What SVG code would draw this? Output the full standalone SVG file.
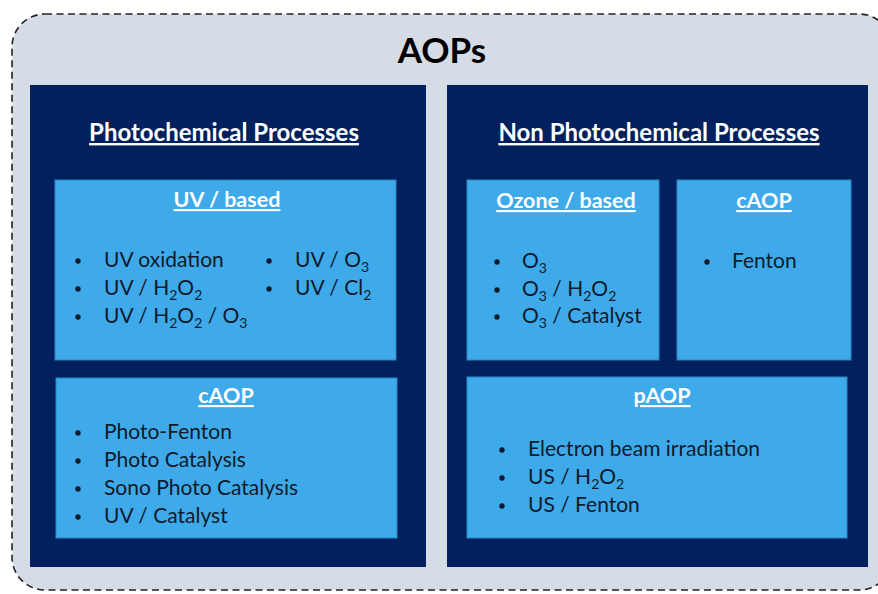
<svg xmlns="http://www.w3.org/2000/svg" width="878" height="594" viewBox="0 0 878 594">
  <style>
    .panel { fill: #01215e; }
    .box { fill: #3eaaea; stroke: #2a86c4; stroke-width: 1; }
    .title { font-family: Lato, "Open Sans", sans-serif; font-weight: bold; fill: #ffffff; text-decoration: underline; text-anchor: middle; }
    .head { font-size: 24px; }
    .sub { font-size: 21.5px; }
    .item { font-family: Lato, "Open Sans", sans-serif; font-size: 21px; fill: #101a2c; }
    .dot { fill: #101a2c; }
  </style>
  <defs>
    <circle id="bullet" r="2.7" class="dot"/>
  </defs>

  <!-- outer dashed container -->
  <g id="aops">
    <rect x="12" y="14" width="880" height="576" rx="33" ry="33" fill="#d6dce5" stroke="#222" stroke-width="1.6" stroke-dasharray="7 4.5"/>
    <text x="442" y="63" font-family="Lato, 'Open Sans', sans-serif" font-weight="bold" font-size="35" fill="#000" text-anchor="middle">AOPs</text>
  </g>

  <!-- photochemical side -->
  <g id="photochemical">
    <rect class="panel" x="30" y="85" width="396" height="482"/>
    <text class="title head" x="224" y="141">Photochemical Processes</text>
  </g>

  <g id="uv-based">
    <rect class="box" x="55" y="180" width="341" height="180"/>
    <text class="title sub" x="227" y="207">UV / based</text>
    <use href="#bullet" x="78" y="261"/>
    <use href="#bullet" x="78" y="289"/>
    <use href="#bullet" x="78" y="317"/>
    <text class="item" x="104" y="267">UV oxidation</text>
    <text class="item" x="104" y="295">UV / H<tspan dy="4.5" font-size="14">2</tspan><tspan dy="-4.5">O</tspan><tspan dy="4.5" font-size="14">2</tspan></text>
    <text class="item" x="104" y="323">UV / H<tspan dy="4.5" font-size="14">2</tspan><tspan dy="-4.5">O</tspan><tspan dy="4.5" font-size="14">2</tspan><tspan dy="-4.5">  / O</tspan><tspan dy="4.5" font-size="14">3</tspan></text>
    <use href="#bullet" x="269" y="261"/>
    <use href="#bullet" x="269" y="289"/>
    <text class="item" x="295" y="267">UV / O<tspan dy="4.5" font-size="14">3</tspan></text>
    <text class="item" x="295" y="295">UV / Cl<tspan dy="4.5" font-size="14">2</tspan></text>
  </g>

  <g id="caop-photo">
    <rect class="box" x="56" y="378" width="341" height="160"/>
    <text class="title sub" x="226" y="403">cAOP</text>
    <use href="#bullet" x="78" y="433"/>
    <use href="#bullet" x="78" y="461"/>
    <use href="#bullet" x="78" y="489"/>
    <use href="#bullet" x="78" y="517"/>
    <text class="item" x="104" y="439">Photo-Fenton</text>
    <text class="item" x="104" y="467">Photo Catalysis</text>
    <text class="item" x="104" y="495">Sono Photo Catalysis</text>
    <text class="item" x="104" y="523">UV / Catalyst</text>
  </g>

  <!-- non-photochemical side -->
  <g id="non-photochemical">
    <rect class="panel" x="447" y="85" width="421" height="482"/>
    <text class="title head" x="659" y="141">Non Photochemical Processes</text>
  </g>

  <g id="ozone-based">
    <rect class="box" x="467" y="180" width="192" height="180"/>
    <text class="title sub" x="566" y="208">Ozone / based</text>
    <use href="#bullet" x="497" y="262"/>
    <use href="#bullet" x="497" y="290"/>
    <use href="#bullet" x="497" y="317"/>
    <text class="item" x="522" y="268">O<tspan dy="4.5" font-size="14">3</tspan></text>
    <text class="item" x="522" y="296">O<tspan dy="4.5" font-size="14">3</tspan><tspan dy="-4.5"> / H</tspan><tspan dy="4.5" font-size="14">2</tspan><tspan dy="-4.5">O</tspan><tspan dy="4.5" font-size="14">2</tspan></text>
    <text class="item" x="522" y="323">O<tspan dy="4.5" font-size="14">3</tspan><tspan dy="-4.5"> / Catalyst</tspan></text>
  </g>

  <g id="caop-nonphoto">
    <rect class="box" x="677" y="180" width="174" height="180"/>
    <text class="title sub" x="764" y="208">cAOP</text>
    <use href="#bullet" x="707" y="262"/>
    <text class="item" x="732" y="268">Fenton</text>
  </g>

  <g id="paop">
    <rect class="box" x="467" y="377" width="380" height="161"/>
    <text class="title sub" x="662" y="403">pAOP</text>
    <use href="#bullet" x="502" y="450"/>
    <use href="#bullet" x="502" y="478"/>
    <use href="#bullet" x="502" y="506"/>
    <text class="item" x="528" y="456">Electron beam irradiation</text>
    <text class="item" x="528" y="484">US / H<tspan dy="4.5" font-size="14">2</tspan><tspan dy="-4.5">O</tspan><tspan dy="4.5" font-size="14">2</tspan></text>
    <text class="item" x="528" y="512">US / Fenton</text>
  </g>
</svg>
